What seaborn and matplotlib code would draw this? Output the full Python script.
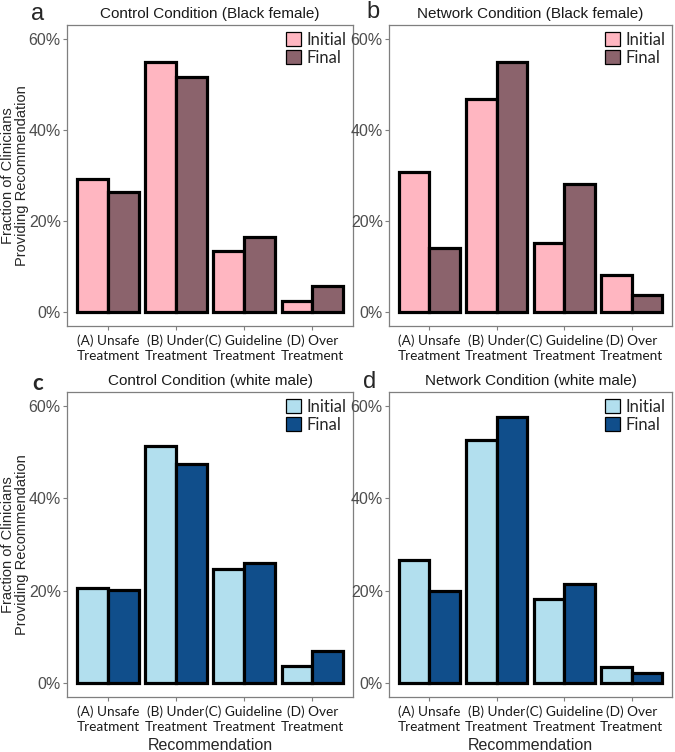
import matplotlib
matplotlib.use("Agg")
import matplotlib.pyplot as plt
import seaborn as sns
import pandas as pd
from matplotlib.patches import Patch
from matplotlib.ticker import PercentFormatter

categories = ["(A) Unsafe\nTreatment", "(B) Under\nTreatment",
              "(C) Guideline\nTreatment", "(D) Over\nTreatment"]
stages = ["Initial", "Final"]

# fraction of clinicians
control_black_initial = [0.293, 0.549, 0.135, 0.024]
control_black_final = [0.264, 0.515, 0.166, 0.057]
network_black_initial = [0.308, 0.468, 0.151, 0.081]
network_black_final = [0.141, 0.549, 0.281, 0.037]
control_white_initial = [0.205, 0.513, 0.248, 0.038]
control_white_final = [0.202, 0.475, 0.259, 0.069]
network_white_initial = [0.266, 0.527, 0.183, 0.034]
network_white_final = [0.199, 0.575, 0.214, 0.023]

titles = ["Control Condition (Black female)", "Network Condition (Black female)",
          "Control Condition (white male)", "Network Condition (white male)"]

pink_colors = ["#FFB6C1", "#8B636C"]
blue_colors = ["#B2DFEE", "#104E8B"]

sns.set_theme(style="white")

W, H = 675, 752
fig = plt.figure(figsize=(W / 100, H / 100), dpi=100)

def make_ax(left, right, top, bottom):
    return fig.add_axes([left / W, 1 - bottom / H, (right - left) / W, (bottom - top) / H])

boxes = [(67, 353, 25, 326), (389, 672, 25, 326),
         (67, 353, 392, 697), (389, 672, 392, 697)]
series = [(control_black_initial, control_black_final, pink_colors),
          (network_black_initial, network_black_final, pink_colors),
          (control_white_initial, control_white_final, blue_colors),
          (network_white_initial, network_white_final, blue_colors)]

for i, (box, (ini, fin, cols)) in enumerate(zip(boxes, series)):
    ax = make_ax(*box)
    w_px = box[1] - box[0]
    h_px = box[3] - box[2]
    df = pd.DataFrame({
        "Recommendation": categories * 2,
        "Stage": ["Initial"] * 4 + ["Final"] * 4,
        "Fraction": ini + fin,
    })
    sns.barplot(data=df, x="Recommendation", y="Fraction", hue="Stage",
                hue_order=stages, palette=cols, width=0.9, ax=ax,
                edgecolor="black", linewidth=2.3, errorbar=None, legend=False,
                saturation=1)
    ax.set_xlim(-0.6, 3.6)
    ax.set_ylim(-0.03, 0.63)
    ax.set_yticks([0, 0.2, 0.4, 0.6])
    ax.yaxis.set_major_formatter(PercentFormatter(1, decimals=0))
    ax.tick_params(axis="y", labelsize=11.5, labelcolor="#4D4D4D", length=3,
                   color="#7F7F7F", width=0.8, left=True, pad=1.5)
    ax.tick_params(axis="x", length=3, color="#7F7F7F", width=0.8, bottom=True, pad=3)
    for lab in ax.get_yticklabels():
        lab.set_fontfamily("Liberation Sans")
    for lab in ax.get_xticklabels():
        lab.set_fontfamily("Lato")
        lab.set_fontsize(9.8)
        lab.set_color("#1A1A1A")
        lab.set_linespacing(1.3)
    for sp in ax.spines.values():
        sp.set_color("#7F7F7F")
        sp.set_linewidth(0.9)
    ax.set_title(titles[i], fontsize=11, family="Liberation Sans", pad=5, color="#1A1A1A")

    if i % 2 == 0:
        ax.set_ylabel("Fraction of Clinicians\nProviding Recommendation",
                      fontsize=10.5, family="Liberation Sans", linespacing=0.95,
                      va="center")
        ax.yaxis.set_label_coords(-52 / w_px, 0.5)
    else:
        ax.set_ylabel("")
    if i >= 2:
        ax.set_xlabel("Recommendation", fontsize=11.5, family="Liberation Sans",
                      va="center")
        ax.xaxis.set_label_coords(0.5, -49 / h_px)
    else:
        ax.set_xlabel("")

    handles = [Patch(facecolor=cols[0], edgecolor="black", linewidth=0.9),
               Patch(facecolor=cols[1], edgecolor="black", linewidth=0.9)]
    ax.legend(handles, stages, loc="upper right", frameon=False,
              prop={"family": "Lato", "size": 12}, handlelength=0.85, handleheight=0.85,
              handletextpad=0.35, labelspacing=0.12, borderaxespad=0.2,
              borderpad=0.2)

# panel letters
fig.text(38 / W, 1 - 14 / H, "a", fontsize=17, family="Liberation Sans", va="center", ha="center")
fig.text(373 / W, 1 - 12 / H, "b", fontsize=17, family="Liberation Sans", va="center", ha="center")
fig.text(38 / W, 1 - 383 / H, "c", fontsize=16, family="Lato", weight="bold", va="center", ha="center")
fig.text(370 / W, 1 - 382 / H, "d", fontsize=17, family="Liberation Sans", va="center", ha="center")

fig.savefig("out.png", dpi=100)
